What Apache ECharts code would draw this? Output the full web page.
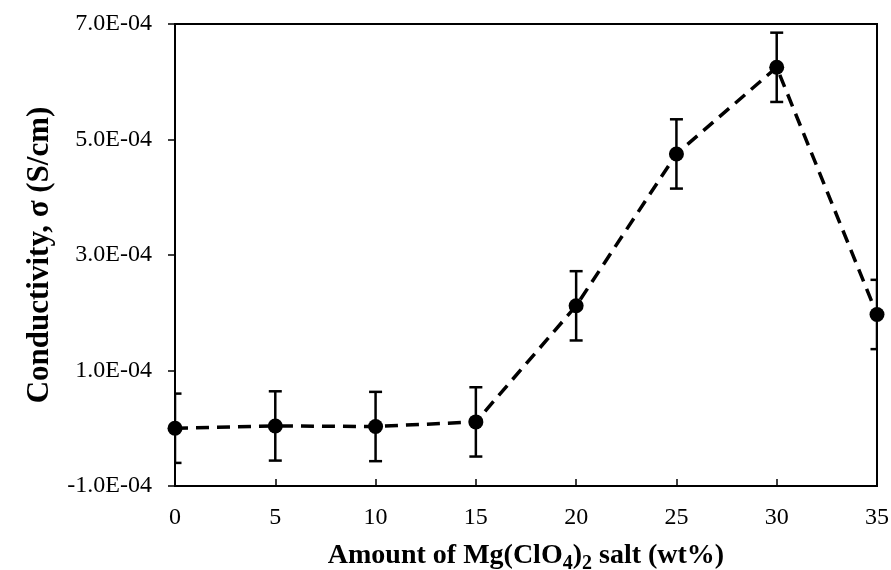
<!DOCTYPE html>
<html>
<head>
<meta charset="utf-8">
<script src="https://cdn.jsdelivr.net/npm/echarts@6/dist/echarts.min.js"></script>
<style>
  html, body { margin: 0; padding: 0; background: #fff; }
  #chart { width: 891px; height: 570px; }
</style>
</head>
<body>
<div id="chart"></div>
<script>
// Salt content (wt%) and measured conductivity (S/cm) with error half-widths
const saltContent = [0, 5, 10, 15, 20, 25, 30, 35];
const conductivity = [0.0e-5, 0.4e-5, 0.3e-5, 1.1e-5, 2.12e-4, 4.75e-4, 6.25e-4, 1.97e-4];
const errorHalf = [6.0e-5, 6.0e-5, 6.0e-5, 6.0e-5, 6.0e-5, 6.0e-5, 6.0e-5, 6.0e-5];
const yTickValues = [-1.0e-4, 1.0e-4, 3.0e-4, 5.0e-4, 7.0e-4];
const xTickValues = [0, 5, 10, 15, 20, 25, 30, 35];

const FONT = 'Liberation Serif';

function sci(v) {
  const parts = v.toExponential(1).split('e');
  const exp = parseInt(parts[1], 10);
  const sign = exp < 0 ? '-' : '+';
  const abs = Math.abs(exp);
  return parts[0] + 'E' + sign + (abs < 10 ? '0' + abs : String(abs));
}

const points = saltContent.map((x, i) => [x, conductivity[i]]);
const bars = saltContent.map((x, i) => [x, conductivity[i] - errorHalf[i], conductivity[i] + errorHalf[i]]);

const chart = echarts.init(document.getElementById('chart'));
chart.setOption({
  animation: false,
  backgroundColor: '#fff',
  grid: {
    left: 175, right: 14, top: 24, bottom: 84,
    outerBoundsMode: 'none',
    show: true, borderColor: '#000', borderWidth: 2, backgroundColor: 'transparent'
  },
  xAxis: {
    type: 'value', min: 0, max: 35, interval: 5,
    axisLine: { show: true, onZero: false, lineStyle: { color: '#000', width: 2 } },
    axisTick: { show: true, inside: true, length: 7, lineStyle: { color: '#000', width: 1.5 }, customValues: xTickValues },
    axisLabel: { color: '#000', fontFamily: FONT, fontSize: 24, margin: 20, customValues: xTickValues },
    splitLine: { show: false },
    name: '{b|Amount of Mg(ClO}{s|4}{b|)}{s|2}{b| salt (wt%)}',
    nameLocation: 'middle', nameGap: 54,
    nameTextStyle: {
      rich: {
        b: { fontFamily: FONT, fontSize: 28, fontWeight: 'bold', color: '#000', lineHeight: 30, verticalAlign: 'bottom' },
        s: { fontFamily: FONT, fontSize: 20, fontWeight: 'bold', color: '#000', lineHeight: 30, verticalAlign: 'bottom', padding: [0, 0, -4, 0] }
      }
    }
  },
  yAxis: {
    type: 'value', min: -1.0e-4, max: 7.0e-4, interval: 1.0e-4,
    axisLine: { show: true, onZero: false, lineStyle: { color: '#000', width: 2 } },
    axisTick: { show: true, inside: false, length: 7, lineStyle: { color: '#000', width: 1.5 }, customValues: yTickValues },
    axisLabel: { color: '#000', fontFamily: FONT, fontSize: 24, margin: 23, customValues: yTickValues, formatter: sci },
    splitLine: { show: false },
    name: 'Conductivity, σ (S/cm)',
    nameLocation: 'middle', nameGap: 120,
    nameTextStyle: { fontFamily: FONT, fontSize: 31, fontWeight: 'bold', color: '#000' }
  },
  series: [
    {
      type: 'custom',
      name: 'error',
      clip: true,
      z: 2,
      data: bars,
      renderItem: function (params, api) {
        const x = api.value(0);
        const lo = api.coord([x, api.value(1)]);
        const hi = api.coord([x, api.value(2)]);
        const hw = 6.5;
        const style = { stroke: '#000', lineWidth: 2.5, fill: null };
        return {
          type: 'group',
          children: [
            { type: 'line', shape: { x1: lo[0], y1: lo[1], x2: hi[0], y2: hi[1] }, style: style },
            { type: 'line', shape: { x1: hi[0] - hw, y1: hi[1], x2: hi[0] + hw, y2: hi[1] }, style: style },
            { type: 'line', shape: { x1: lo[0] - hw, y1: lo[1], x2: lo[0] + hw, y2: lo[1] }, style: style }
          ]
        };
      }
    },
    {
      type: 'line',
      name: 'conductivity',
      data: points,
      z: 3,
      symbol: 'circle',
      symbolSize: 15,
      itemStyle: { color: '#000' },
      lineStyle: { color: '#000', width: 3.5, type: [13, 8] }
    }
  ]
});
</script>
</body>
</html>
